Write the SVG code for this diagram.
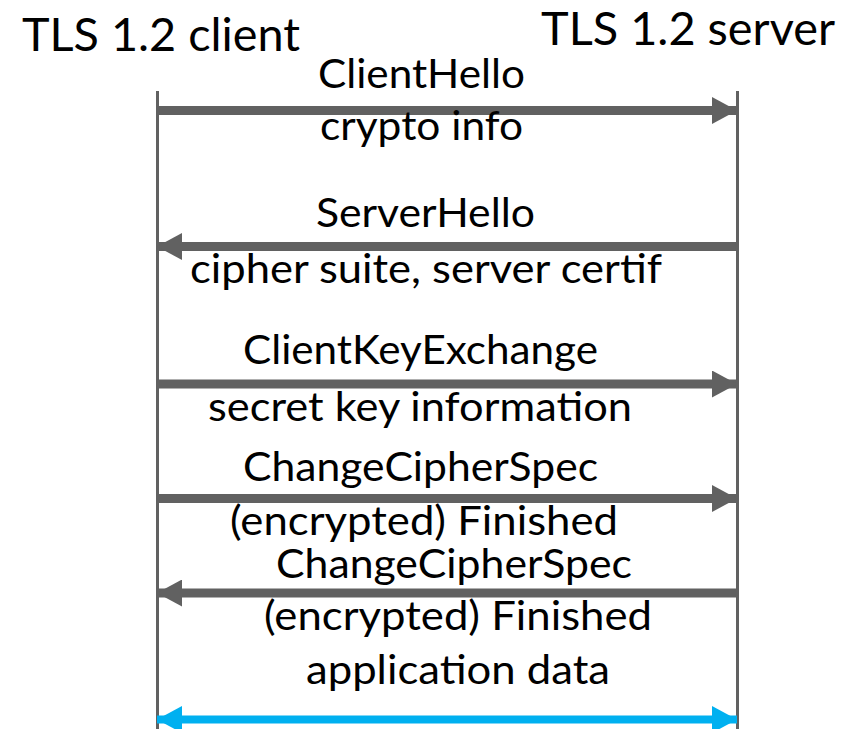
<svg xmlns="http://www.w3.org/2000/svg" width="861" height="729" viewBox="0 0 861 729">
<defs>
<style>
.t{font-family:Lato,"Liberation Sans",sans-serif;fill:#000}
.h{font-size:46px}
.b{font-size:40px}
.life{stroke:#616161;stroke-width:3;fill:none}
.msg{stroke:#616161;stroke-width:9;fill:none}
.app{stroke:#00b0f0;stroke-width:8;fill:none}
</style>
<marker id="ah" viewBox="0 0 25 27" refX="25" refY="13.5" markerWidth="25" markerHeight="27" markerUnits="userSpaceOnUse" orient="auto-start-reverse">
<path d="M0,0 L25,13.5 L0,27 Z" fill="#616161"/>
</marker>
<marker id="ab" viewBox="0 0 25 27" refX="25" refY="13.5" markerWidth="25" markerHeight="27" markerUnits="userSpaceOnUse" orient="auto-start-reverse">
<path d="M0,0 L25,13.5 L0,27 Z" fill="#00b0f0"/>
</marker>
</defs>
<rect width="861" height="729" fill="#fff"/>
<g id="client">
<line class="life" x1="157.5" y1="91" x2="157.5" y2="729"/>
<text class="t h" x="22" y="51" textLength="278" lengthAdjust="spacingAndGlyphs">TLS 1.2 client</text>
</g>
<g id="server">
<line class="life" x1="737.5" y1="91" x2="737.5" y2="729"/>
<text class="t h" x="541" y="45" textLength="294" lengthAdjust="spacingAndGlyphs">TLS 1.2 server</text>
</g>
<g id="connectors">
<line class="msg" x1="157" y1="110.5" x2="737" y2="110.5" marker-end="url(#ah)"/>
<line class="msg" x1="737" y1="246.5" x2="157" y2="246.5" marker-end="url(#ah)"/>
<line class="msg" x1="157" y1="384" x2="737" y2="384" marker-end="url(#ah)"/>
<line class="msg" x1="157" y1="498.5" x2="737" y2="498.5" marker-end="url(#ah)"/>
<line class="msg" x1="737" y1="593" x2="157" y2="593" marker-end="url(#ah)"/>
<line class="app" x1="157" y1="719.5" x2="737" y2="719.5" marker-start="url(#ab)" marker-end="url(#ab)"/>
</g>
<g id="labels">
<text class="t b" x="318" y="88" textLength="207" lengthAdjust="spacingAndGlyphs">ClientHello</text>
<text class="t b" x="320" y="140" textLength="203" lengthAdjust="spacingAndGlyphs">crypto info</text>
<text class="t b" x="316" y="227" textLength="219" lengthAdjust="spacingAndGlyphs">ServerHello</text>
<text class="t b" x="190" y="283" textLength="472" lengthAdjust="spacingAndGlyphs">cipher suite, server certif</text>
<text class="t b" x="243" y="364" textLength="355" lengthAdjust="spacingAndGlyphs">ClientKeyExchange</text>
<text class="t b" x="208" y="421" textLength="424" lengthAdjust="spacingAndGlyphs">secret key information</text>
<text class="t b" x="243" y="481" textLength="355" lengthAdjust="spacingAndGlyphs">ChangeCipherSpec</text>
<text class="t b" x="230" y="535" textLength="388" lengthAdjust="spacingAndGlyphs">(encrypted) Finished</text>
<text class="t b" x="276" y="578" textLength="356" lengthAdjust="spacingAndGlyphs">ChangeCipherSpec</text>
<text class="t b" x="264" y="630" textLength="388" lengthAdjust="spacingAndGlyphs">(encrypted) Finished</text>
<text class="t b" x="306" y="684" textLength="304" lengthAdjust="spacingAndGlyphs">application data</text>
</g>
</svg>
